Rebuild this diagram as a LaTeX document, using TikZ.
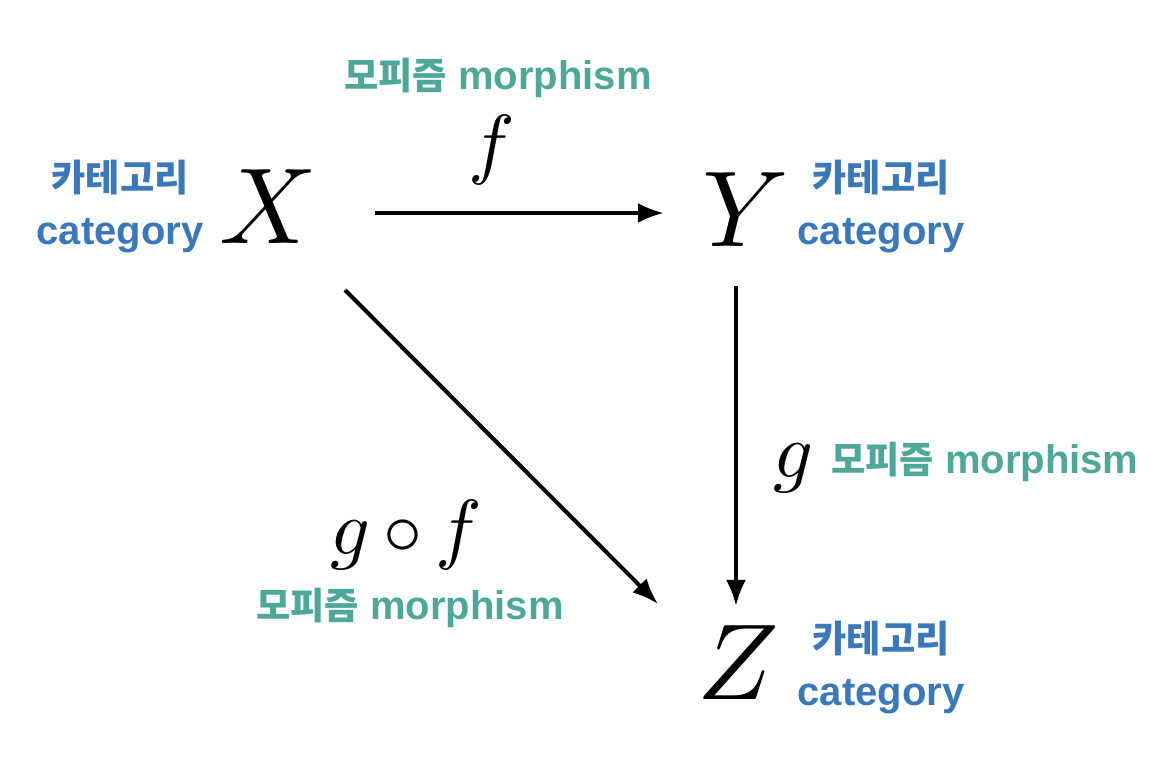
\documentclass[tikz,border=0pt]{standalone}
\usepackage{graphicx}
\usepackage{fontspec}
\setsansfont{Liberation Sans}
\newfontfamily\korfont[Scale=0.93]{Noto Sans CJK KR}
\usetikzlibrary{arrows.meta, positioning}
\definecolor{catblue}{HTML}{3A78BA}
\definecolor{morteal}{HTML}{4EA89A}
\tikzset{
  % oggetto della categoria
  obj/.style={inner sep=0pt},
  % nome del morfismo
  mname/.style={inner sep=0pt},
  % etichette
  catlbl/.style={align=center, text=catblue, inner sep=0pt,
    font=\fontsize{20}{26.5}\selectfont\sffamily\bfseries},
  morlbl/.style={text=morteal, inner sep=0pt,
    font=\fontsize{20}{22}\selectfont\sffamily\bfseries},
  % freccia del morfismo
  mor/.style={-{Latex[length=13pt, width=10pt]}, line width=2pt},
}
\newcommand{\kor}[1]{{\korfont\bfseries #1}}
\newcommand{\bigobj}[1]{\scalebox{5.4}{$#1$}}
\newcommand{\bigmor}[1]{\scalebox{3.9}{$#1$}}
\begin{document}
\begin{tikzpicture}[x=0.5pt, y=-0.5pt]
  \useasboundingbox (0,0) rectangle (1162,774);
  % oggetti
  \node[obj] (x) at (268,207) {\bigobj{X}};
  \node[obj] (y) at (746,210) {\bigobj{Y}};
  \node[obj] (z) at (738,663) {\bigobj{Z}};
  % punti di attacco delle frecce
  \coordinate (xr) at (375,213);
  \coordinate (yl) at (664,213);
  \coordinate (yb) at (736,286);
  \coordinate (zt) at (736,606);
  \coordinate (xb) at (345,290);
  \coordinate (zl) at (658,604);
  \draw[mor] (xr) -- (yl);
  \draw[mor] (yb) -- (zt);
  \draw[mor] (xb) -- (zl);
  % nomi dei morfismi
  \node[mname] (f) at (492,150) {\bigmor{f}};
  \node[mname] (g) at (793,468) {\bigmor{g}};
  \node[mname] (gf) at (406,535) {\bigmor{g\mskip3mu{\circ}\mskip3mu f}};
  % etichette
  \node[catlbl] (xlbl) at (120,207) {\kor{카테고리}\\category};
  \node[catlbl] (ylbl) at (881,207) {\kor{카테고리}\\category};
  \node[catlbl] (zlbl) at (881,668) {\kor{카테고리}\\category};
  \node[morlbl] (flbl) at (498,78) {\kor{모피즘} morphism};
  \node[morlbl, anchor=west] (glbl) at (831,462) {\kor{모피즘} morphism};
  \node[morlbl] (gflbl) at (410,608) {\kor{모피즘} morphism};
\end{tikzpicture}
\end{document}
